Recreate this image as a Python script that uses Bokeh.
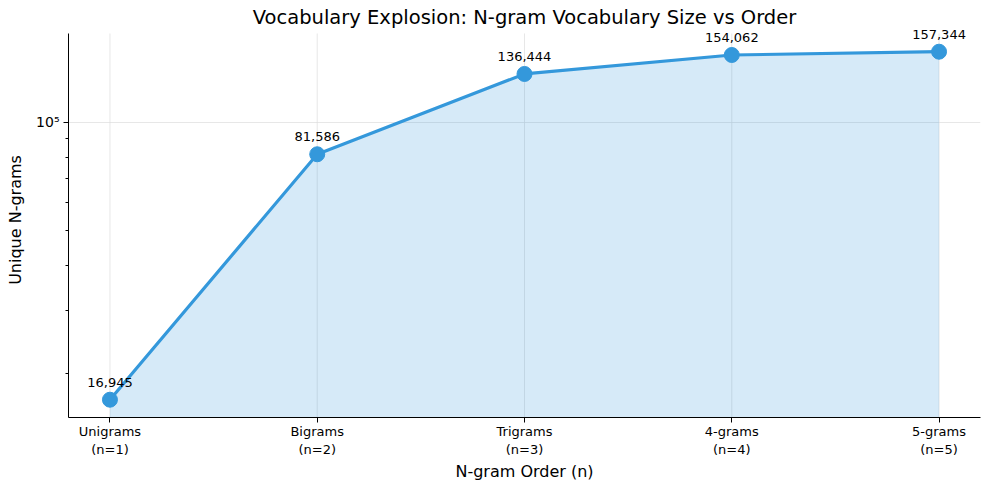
from bokeh.plotting import figure
from bokeh.models import Range1d, FixedTicker, ColumnDataSource
from bokeh.core.properties import value
from bokeh.embed import file_html
from bokeh.resources import INLINE

# data
orders = [1, 2, 3, 4, 5]
order_labels = ["Unigrams\n(n=1)", "Bigrams\n(n=2)", "Trigrams\n(n=3)", "4-grams\n(n=4)", "5-grams\n(n=5)"]
vocab_sizes = [16945, 81586, 136444, 154062, 157344]
value_texts = ["16,945", "81,586", "136,444", "154,062", "157,344"]
fill_floor = [1, 1, 1, 1, 1]
y_major_ticks = [100000]
y_minor_ticks = [20000, 30000, 40000, 50000, 60000, 70000, 80000, 90000]
y_axis_low, y_axis_high = 15120, 176800

FONT = "DejaVu Sans"
BLUE = "#3498db"

src = ColumnDataSource(dict(x=orders, y=vocab_sizes, t=value_texts, y0=fill_floor))
grid_src = ColumnDataSource(dict(x=orders, lo=[y_axis_low] * len(orders), hi=[y_axis_high] * len(orders)))

p = figure(width=989, height=490, output_backend="svg", toolbar_location=None,
           y_axis_type="log",
           x_range=Range1d(0.8, 5.2), y_range=Range1d(y_axis_low, 189700),
           min_border=0,
           min_border_left=68, min_border_right=9, min_border_top=22, min_border_bottom=73,
           title="Vocabulary Explosion: N-gram Vocabulary Size vs Order")
p.border_fill_color = "white"

p.title.text_font = FONT
p.title.text_font_size = "19.5px"
p.title.text_font_style = "normal"
p.title.text_color = "black"
p.title.align = "center"
p.title.standoff = -13
p.title.offset = 0

p.outline_line_color = None
p.background_fill_color = "white"

p.segment(x0="x", y0="lo", x1="x", y1="hi", source=grid_src, line_color="#dddddd", line_alpha=0.7, line_width=1)
p.varea(x="x", y1="y0", y2="y", source=src, fill_color=BLUE, fill_alpha=0.2)
p.line(x="x", y="y", source=src, line_color=BLUE, line_width=3.2)
p.scatter(x="x", y="y", source=src, size=15, fill_color=BLUE, line_color=BLUE)
p.text(x="x", y="y", text="t", source=src, text_align="center", text_baseline="bottom",
       y_offset=-13, text_font=value(FONT), text_font_size="13px", text_color="black")

# x axis
p.xaxis.ticker = FixedTicker(ticks=orders)
p.xaxis.major_label_overrides = {o: l for o, l in zip(orders, order_labels)}
p.xaxis.axis_label = "N-gram Order (n)"
# y axis
p.yaxis.ticker = FixedTicker(ticks=y_major_ticks, minor_ticks=y_minor_ticks)
p.yaxis.major_label_overrides = {100000: "10⁵"}
p.yaxis.axis_label = "Unique N-grams"
p.yaxis.bounds = (y_axis_low, y_axis_high)

for ax in (p.xaxis[0], p.yaxis[0]):
    ax.axis_line_color = "black"
    ax.axis_line_width = 1
    ax.major_tick_line_color = "black"
    ax.minor_tick_line_color = "black"
    ax.major_tick_out = 5
    ax.major_tick_in = 0
    ax.minor_tick_out = 3
    ax.minor_tick_in = 0
    ax.major_label_text_font = FONT
    ax.major_label_text_font_size = "13px"
    ax.major_label_text_color = "black"
    ax.axis_label_text_font = FONT
    ax.axis_label_text_font_size = "16px"
    ax.axis_label_text_font_style = "normal"
    ax.axis_label_text_color = "black"
p.xaxis.minor_tick_line_color = None
p.xaxis.major_label_standoff = 1
p.xaxis.axis_label_standoff = 2
p.yaxis.major_label_standoff = 4
p.yaxis.major_label_text_font_size = "14px"
p.yaxis.axis_label_standoff = 8

p.xgrid.visible = False
p.ygrid.grid_line_color = "#dddddd"
p.ygrid.grid_line_alpha = 0.7

open("out.html", "w").write(file_html(p, INLINE))
